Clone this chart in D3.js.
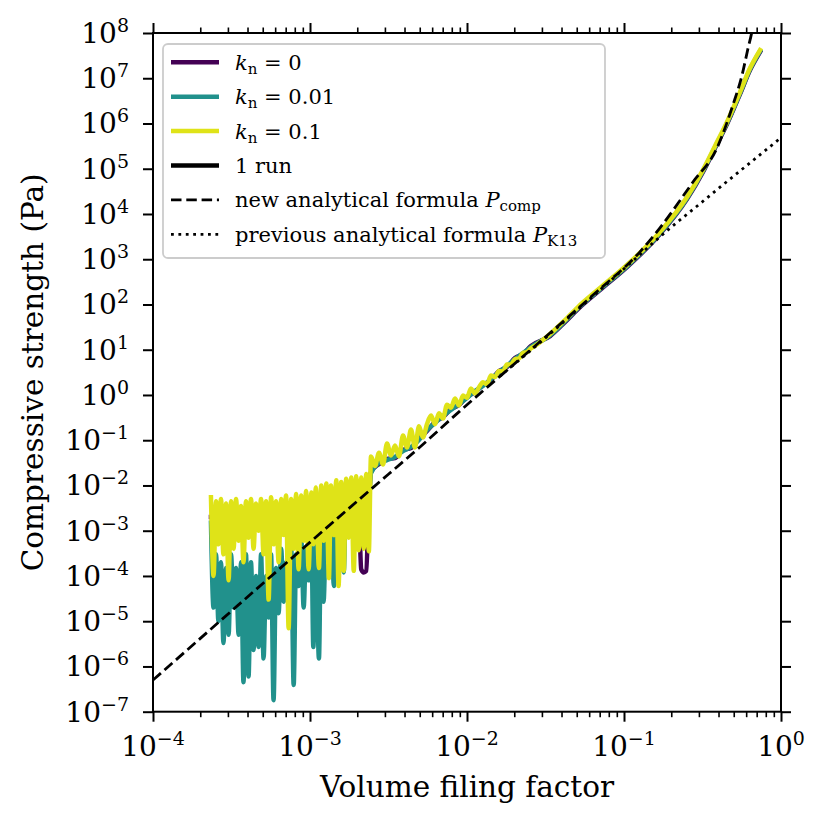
<!DOCTYPE html>
<html>
<head>
<meta charset="utf-8">
<script src="https://cdn.jsdelivr.net/npm/d3@7"></script>
<style>
  body { margin: 0; background: #fff; }
  svg { display: block; }
  text { font-family: "DejaVu Serif", serif; fill: #000; }
</style>
</head>
<body>
<svg id="fig" width="829" height="824"></svg>
<script>
// --- datos ---
// zona ruidosa (filling factor bajo)
const phiNoisy = [2.34e-4,2.43e-4,2.52e-4,2.61e-4,2.71e-4,2.81e-4,2.92e-4,3.03e-4,3.14e-4,3.26e-4,
                  3.38e-4,3.51e-4,3.64e-4,3.77e-4,3.91e-4,4.06e-4,4.21e-4,4.37e-4,4.53e-4,4.70e-4,
                  4.88e-4,5.06e-4,5.25e-4,5.45e-4,5.65e-4,5.86e-4,6.08e-4,6.31e-4,6.55e-4,6.79e-4,
                  7.04e-4,7.31e-4,7.58e-4,7.87e-4,8.16e-4,8.46e-4,8.78e-4,9.11e-4,9.45e-4,9.80e-4,
                  1.02e-3,1.05e-3,1.09e-3,1.14e-3,1.18e-3,1.22e-3,1.27e-3,1.32e-3,1.36e-3,1.42e-3,
                  1.47e-3,1.52e-3,1.58e-3,1.64e-3,1.70e-3,1.76e-3,1.83e-3,1.90e-3,1.97e-3,2.04e-3,
                  2.12e-3,2.20e-3,2.28e-3,2.37e-3];
const yellowNoisy = [5.5e-3,1e-4,4.5e-3,5e-4,5e-3,3e-4,4e-3,8e-5,4.5e-3,4e-4,
                     5e-3,6e-4,3.5e-3,2e-4,4.5e-3,7e-4,5e-3,4e-4,4e-3,1e-3,
                     5e-3,3e-4,4.5e-3,3e-5,5.5e-3,5e-4,4.5e-3,2e-4,5e-3,8e-4,
                     6e-3,7e-6,5e-3,4e-4,6.5e-3,1.4e-4,6e-3,6e-4,7.5e-3,1.4e-4,
                     7e-3,5e-4,9e-3,1.5e-4,1e-2,6e-4,1.1e-2,9e-5,1e-2,8e-4,
                     1.3e-2,6e-5,1.2e-2,1.3e-4,1.4e-2,7e-4,1.5e-2,1.3e-4,1.6e-2,3.7e-4,
                     1.5e-2,4e-4,1.8e-2,3.5e-4];
const tealNoisy = [1.5e-3,2e-5,3e-4,1e-5,2e-4,3.3e-6,1.5e-4,5e-6,3e-4,2e-5,
                   1.5e-4,5e-6,2e-4,4.5e-7,3e-4,6e-7,2e-4,2.3e-6,1e-4,2.7e-6,
                   3e-4,1.5e-6,1e-4,1.2e-5,3e-4,1.8e-7,1.5e-4,1.5e-5,4e-4,2.7e-5,
                   2e-4,5e-5,5e-4,3.9e-7,3e-4,6e-5,8e-4,2e-5,4e-4,8e-5,
                   1e-3,2.7e-6,5e-4,1.5e-6,2e-3,2.7e-5,1.5e-3,2e-4,3e-3,6e-5,
                   4e-3,5e-4,5e-3,1.2e-4,6e-3,8e-4,8e-3,1e-3,1e-2,2e-3,
                   1.2e-2,3e-3,1.4e-2,5e-3];
const phiPurpleNoisy = [2.34e-4,4.0e-4,7.0e-4,1.2e-3,1.9e-3,2.04e-3,2.12e-3,2.20e-3,2.28e-3,2.37e-3];
const purpleNoisy = [2e-3,2e-3,2e-3,2.5e-3,3e-3,3e-3,1.4e-4,1.2e-4,1.3e-4,4e-3];

// zona intermedia
const phiMid = [2.446e-3,2.594e-3,2.751e-3,2.917e-3,3.093e-3,3.280e-3,3.478e-3,3.688e-3,3.911e-3,4.147e-3,
                4.398e-3,4.663e-3,4.945e-3,5.244e-3,5.561e-3,5.896e-3,6.252e-3,6.630e-3,7.031e-3,7.455e-3,
                7.906e-3,8.383e-3,8.890e-3,9.427e-3,9.996e-3,1.060e-2,1.124e-2,1.192e-2,1.264e-2,1.340e-2,
                1.421e-2,1.507e-2,1.598e-2,1.695e-2,1.797e-2,1.906e-2,2.021e-2,2.143e-2,2.272e-2,2.410e-2,
                2.555e-2,2.710e-2];
const yellowMid = [0.0435,0.0269,0.0530,0.0290,0.0845,0.0459,0.0764,0.0437,0.127,0.0690,
                   0.172,0.0690,0.203,0.115,0.227,0.352,0.226,0.397,0.302,0.610,
                   0.522,0.836,0.585,0.973,0.865,1.39,1.08,1.48,1.91,1.72,
                   2.69,2.49,3.38,3.30,4.71,4.75,6.19,6.40,8.53,8.85,
                   10.8,12.2];
const phiMid2 = [2.446e-3,2.751e-3,3.093e-3,3.478e-3,3.911e-3,4.398e-3,4.945e-3,5.561e-3,6.252e-3,7.031e-3,
                 7.906e-3,8.890e-3,9.996e-3,1.124e-2,1.264e-2,1.421e-2,1.598e-2,1.797e-2,2.021e-2,2.272e-2,
                 2.555e-2];
const tealMid = [0.0188,0.0313,0.0365,0.0426,0.0577,0.0708,0.101,0.168,0.240,0.343,
                 0.465,0.631,0.857,1.22,1.58,2.25,3.21,4.36,6.22,8.45,
                 11.5];
const purpleMid = [0.0198,0.0298,0.0385,0.0405,0.0607,0.0673,0.106,0.160,0.252,0.326,
                   0.489,0.600,0.902,1.16,1.66,2.14,3.38,4.15,6.56,8.04,
                   12.1];

// zona suave
const phiSmooth = [3.38e-2,4.21e-2,5.09e-2,7.03e-2,0.1045,0.1695,0.252,0.318,0.380,0.453,0.548,0.635,0.735];
const yellowSmooth = [22.2,45.3,87.9,231,745,3990,2.37e4,9.35e4,3.18e5,1.08e6,4.95e6,1.68e7,4.2e7];
const tealSmooth = [20.9,42.6,82.6,217,700,3750,2.23e4,8.8e4,2.99e5,1.02e6,4.65e6,1.58e7,3.95e7];
const purpleSmooth = [20.0,40.8,79.1,208,670,3590,2.13e4,8.4e4,2.86e5,9.7e5,4.45e6,1.51e7,3.78e7];

// formulas analiticas
const phiComp = [1e-4,2.41e-3,5.02e-3,9.0e-3,2.41e-2,6.35e-2,0.126,0.169,0.275,0.391,0.494,0.565,0.617,0.653,0.682];
const pComp = [5.0e-7,7.9e-3,7.1e-2,0.44,8.45,162,1440,4890,5.08e4,2.86e5,2.56e6,1.18e7,4.65e7,1.1e8,3.2e8];
const phiK13 = [1.62e-2,2.41e-2,5.78e-2,9.43e-2,0.196,0.305,0.451,0.664,0.986,1];
const pK13 = [2.6,8.2,115,514,4820,1.69e4,5.16e4,1.53e5,4.7e5,4.9e5];

const xTickExp = [-4,-3,-2,-1,0];
const yTickExp = [-7,-6,-5,-4,-3,-2,-1,0,1,2,3,4,5,6,7,8];

const colores = ["#440154","#21918c","#dfe318"];

// --- figura ---
let m = {"left":153,"right":781,"top":33,"bottom":711.7};
let svg = d3.select("#fig");

let xscale = d3.scaleLog().domain([1e-4,1]).range([m.left,m.right]);
let yscale = d3.scaleLog().domain([1e-7,1e8]).range([m.bottom,m.top]);

svg.append("clipPath").attr("id","clip")
    .append("rect")
    .attr("x",m.left).attr("y",m.top)
    .attr("width",m.right - m.left).attr("height",m.bottom - m.top);

let linea = d3.line()
    .x(d => xscale(d[0]))
    .y(d => yscale(d[1]))
    .curve(d3.curveMonotoneX);

let series = [
    d3.zip(phiPurpleNoisy.concat(phiMid2,phiSmooth), purpleNoisy.concat(purpleMid,purpleSmooth)),
    d3.zip(phiNoisy.concat(phiMid2,phiSmooth), tealNoisy.concat(tealMid,tealSmooth)),
    d3.zip(phiNoisy.concat(phiMid,phiSmooth), yellowNoisy.concat(yellowMid,yellowSmooth))
];

let gplot = svg.append("g").attr("clip-path","url(#clip)");

gplot.selectAll(".serie")
    .data(series)
    .enter()
    .append("path")
    .attr("class","serie")
    .attr("d",linea)
    .style("fill","none")
    .style("stroke",(d,i) => colores[i])
    .style("stroke-width",4.5)
    .style("stroke-linejoin","round")
    .style("stroke-linecap","square");

gplot.append("path")
    .attr("d",linea(d3.zip(phiComp,pComp)))
    .style("fill","none")
    .style("stroke","black")
    .style("stroke-width",2.8)
    .style("stroke-dasharray","10.5 4.8");

gplot.append("path")
    .attr("d",linea(d3.zip(phiK13,pK13)))
    .style("fill","none")
    .style("stroke","black")
    .style("stroke-width",2.8)
    .style("stroke-dasharray","2.8 4.6");

// --- ejes ---
let xMajor = xTickExp.map(e => Math.pow(10,e));
let xMinor = xscale.ticks().filter(v => Math.abs(Math.log10(v) - Math.round(Math.log10(v))) > 1e-6);
let yMajor = yTickExp.map(e => Math.pow(10,e));

function ejes(gen,tx,ty,valores,largo,grosor) {
    let g = svg.append("g")
        .attr("transform","translate(" + tx + "," + ty + ")")
        .call(gen.tickValues(valores).tickSize(largo).tickSizeOuter(0).tickFormat(""));
    g.select(".domain").remove();
    g.selectAll("line").style("stroke","black").style("stroke-width",grosor);
}

ejes(d3.axisBottom(xscale),0,m.bottom,xMajor,10,2);
ejes(d3.axisBottom(xscale),0,m.bottom,xMinor,5.5,1.6);
ejes(d3.axisTop(xscale),0,m.top,xMajor,10,2);
ejes(d3.axisTop(xscale),0,m.top,xMinor,5.5,1.6);
ejes(d3.axisLeft(yscale),m.left,0,yMajor,10,2);
ejes(d3.axisRight(yscale),m.right,0,yMajor,10,2);

svg.append("rect")
    .attr("x",m.left).attr("y",m.top)
    .attr("width",m.right - m.left).attr("height",m.bottom - m.top)
    .style("fill","none")
    .style("stroke","black")
    .style("stroke-width",2);

function expo(e) {
    return e < 0 ? "\u2212" + (-e) : "" + e;
}

function potencia(sel) {
    sel.append("tspan").text("10");
    sel.append("tspan")
        .attr("dy",-11)
        .style("font-size","19px")
        .text(d => expo(d));
}

svg.selectAll(".xlab")
    .data(xTickExp)
    .enter()
    .append("text")
    .attr("class","xlab")
    .attr("x",d => xscale(Math.pow(10,d)))
    .attr("y",756)
    .style("text-anchor","middle")
    .style("font-size","28px")
    .call(potencia);

svg.selectAll(".ylab")
    .data(yTickExp)
    .enter()
    .append("text")
    .attr("class","ylab")
    .attr("x",129)
    .attr("y",d => yscale(Math.pow(10,d)) + 10)
    .style("text-anchor","end")
    .style("font-size","28px")
    .call(potencia);

svg.append("text")
    .attr("x",(m.left + m.right)/2)
    .attr("y",797)
    .style("text-anchor","middle")
    .style("font-size","29.5px")
    .text("Volume filing factor");

svg.append("text")
    .attr("transform","translate(43," + (m.top + m.bottom)/2 + ") rotate(-90)")
    .style("text-anchor","middle")
    .style("font-size","29.5px")
    .text("Compressive strength (Pa)");

// --- leyenda ---
const legColores = ["#440154","#21918c","#dfe318","#000000","#000000","#000000"];
const legAnchos = [4.5,4.5,4.5,4.5,2.8,2.8];
const legGuiones = ["none","none","none","none","10.5 4.8","2.8 4.6"];
const legTextos = [
    [["k","i"],["n","sub"],[" = 0",""]],
    [["k","i"],["n","sub"],[" = 0.01",""]],
    [["k","i"],["n","sub"],[" = 0.1",""]],
    [["1 run",""]],
    [["new analytical formula ",""],["P","i"],["comp","sub"]],
    [["previous analytical formula ",""],["P","i"],["K13","sub"]]
];

let gleg = svg.append("g");

gleg.append("rect")
    .attr("x",163).attr("y",44)
    .attr("width",442).attr("height",214)
    .attr("rx",5)
    .style("fill","white")
    .style("fill-opacity",0.8)
    .style("stroke","#cccccc")
    .style("stroke-width",1.8);

gleg.selectAll(".entrada")
    .data(legTextos)
    .enter()
    .append("g")
    .attr("class","entrada")
    .attr("transform",(d,i) => "translate(0," + (62.3 + i*34.4) + ")")
    .each(function(d,i) {
        let g = d3.select(this);
        g.append("line")
            .attr("x1",171).attr("x2",219)
            .style("stroke",legColores[i])
            .style("stroke-width",legAnchos[i])
            .style("stroke-dasharray",legGuiones[i]);

        let t = g.append("text")
            .attr("x",235)
            .attr("y",7.5)
            .style("font-size","21px");

        let bajo = false;
        d.forEach(p => {
            let s = t.append("tspan").text(p[0]);
            if (p[1] == "i") {
                s.style("font-style","italic");
            }
            if (p[1] == "sub") {
                s.style("font-size","15px").attr("dy",4);
                bajo = true;
            } else if (bajo) {
                s.attr("dy",-4);
                bajo = false;
            }
        });
    });
</script>
</body>
</html>
